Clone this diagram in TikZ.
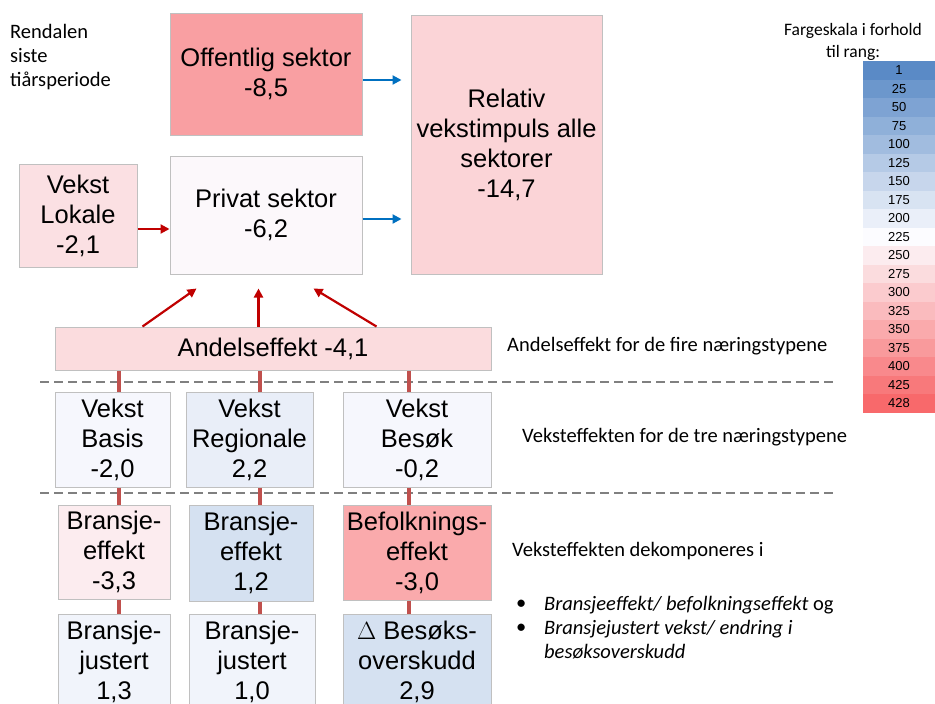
\documentclass[tikz,border=0pt]{standalone}
\usepackage{fontspec}
\setmainfont{Carlito}
\newfontfamily\arialfont{Liberation Sans}
\usepackage{tikz}
\usetikzlibrary{arrows.meta,positioning}

\definecolor{rankblue}{HTML}{5A8AC6}
\definecolor{rankwhite}{HTML}{FCFCFF}
\definecolor{rankred}{HTML}{F8696B}
\definecolor{boxline}{HTML}{C0C0C0}
\definecolor{arrowred}{HTML}{C00000}
\definecolor{arrowblue}{HTML}{0070C0}
\definecolor{linkred}{HTML}{C0504D}
\definecolor{sepgray}{HTML}{808080}

\tikzset{
  effbox/.style={rectangle,draw=boxline,line width=1pt,align=center,inner sep=2pt,
    font=\arialfont\fontsize{25.5}{30}\selectfont},
  rankcell/.style={rectangle,minimum width=72pt,minimum height=18.5pt,inner sep=0pt,
    font=\arialfont\fontsize{13}{15}\selectfont},
  redarrow/.style={->,draw=arrowred,line width=2.2pt},
  bluearrow/.style={->,draw=arrowblue,line width=2.2pt,shorten >=9pt},
  link/.style={draw=linkred,line width=3.5pt},
  sepline/.style={draw=sepgray,line width=2.5pt,dash pattern=on 9pt off 5pt},
  note/.style={anchor=west,inner sep=0pt,font=\fontsize{20.5}{24}\selectfont}
}

\begin{document}
\begin{tikzpicture}[x=1pt,y=-1pt,>={Triangle[length=9pt,width=9pt]}]
\useasboundingbox (0,0) rectangle (935,704);
\clip (0,0) rectangle (935,704);
\fill[white] (0,0) rectangle (935,704);

% sektorer
\node[effbox,fill=rankred!63!rankwhite,minimum width=192pt,minimum height=122pt] (offentlig) at (266,74) {Offentlig sektor\\-8,5};
\node[effbox,fill=rankred!27!rankwhite,minimum width=191pt,minimum height=259pt] (relativ) at (506.5,144.5) {Relativ\\vekstimpuls alle\\sektorer\\-14,7};
\node[effbox,fill=rankwhite!97!rankred,minimum width=192pt,minimum height=118pt] (privat) at (266,215) {Privat sektor\\-6,2};
\node[effbox,fill=rankred!19!rankwhite,minimum width=118pt,minimum height=103pt] (lokale) at (78,215.5) {Vekst\\Lokale\\-2,1};
  \draw[bluearrow] (offentlig.east |- 0,80) -- (relativ.west |- 0,80);
  \draw[bluearrow] (privat.east |- 0,219) -- (relativ.west |- 0,219);
  \draw[redarrow] (lokale.east |- 0,229) -- (privat.west |- 0,229);

\node[effbox,fill=rankred!22!rankwhite,minimum width=436pt,minimum height=43pt] (andel) at (273,348.5) {Andelseffekt -4,1};
  \draw[redarrow] ([xshift=88pt]andel.north west) -- ([xshift=27pt,yshift=-14pt]privat.south west);
  \draw[redarrow] ([xshift=204pt]andel.north west) -- ([xshift=89pt,yshift=-14pt]privat.south west);
  \draw[redarrow] ([xshift=322pt]andel.north west) -- ([xshift=144pt,yshift=-14pt]privat.south west);

% vekst
\node[effbox,fill=rankwhite!96!rankblue,minimum width=115pt,minimum height=95pt] (basis) at (112.5,439.5) {Vekst\\Basis\\-2,0};
\node[effbox,fill=rankblue!12!rankwhite,minimum width=127pt,minimum height=95pt] (regional) at (249.5,439.5) {Vekst\\Regionale\\2,2};
\node[effbox,fill=rankwhite!96!rankblue,minimum width=148pt,minimum height=95pt] (besok) at (417,439.5) {Vekst\\Besøk\\-0,2};

% dekomponering
\node[effbox,fill=rankred!11!rankwhite,minimum width=112pt,minimum height=94pt] (bransje1) at (114,552) {Bransje-\\effekt\\-3,3};
\node[effbox,fill=rankblue!24!rankwhite,minimum width=124pt,minimum height=96pt] (bransje2) at (251,553) {Bransje-\\effekt\\1,2};
\node[effbox,fill=rankred!56!rankwhite,minimum width=148pt,minimum height=95pt] (befolk) at (417,552.5) {Befolknings-\\effekt\\-3,0};
\node[effbox,fill=rankwhite!93!rankblue,minimum width=112pt,minimum height=96pt] (justert1) at (114,662) {Bransje-\\justert\\1,3};
\node[effbox,fill=rankwhite!93!rankblue,minimum width=126pt,minimum height=96pt] (justert2) at (252,662) {Bransje-\\justert\\1,0};
\node[effbox,fill=rankblue!24!rankwhite,minimum width=148pt,minimum height=96pt] (besoks) at (417,662) {$\Delta$ Besøks-\\overskudd\\2,9};

\draw[sepline] (40,382) -- (835,382);
\draw[sepline] (40,493) -- (835,493);

\coordinate (spor1) at (119,0);
\coordinate (spor2) at (260,0);
\coordinate (spor3) at (409,0);
\foreach \fra/\til/\spor in {andel/basis/spor1,andel/regional/spor2,andel/besok/spor3,
    basis/bransje1/spor1,regional/bransje2/spor2,besok/befolk/spor3,
    bransje1/justert1/spor1,bransje2/justert2/spor2,befolk/besoks/spor3}
  \draw[link] (\fra.south -| \spor) -- (\til.north -| \spor);

% forklaringer
\node[note,anchor=north west,align=left] (sted) at (10,24) {Rendalen\\siste\\tiårsperiode};
\node[note] (andeltekst) at (507,346) {Andelseffekt for de fire næringstypene};
\node[note] (veksttekst) at (522,437) {Veksteffekten for de tre næringstypene};
\node[note] (dekomp) at (512,551) {Veksteffekten dekomponeres i};
\node[note] (punkt1) at (516,605) {•};
\node[note] (punkt2) at (516,629) {•};
\node[note,anchor=north west,align=left] (punkttekst) at (544,596) {\textit{Bransjeeffekt/ befolkningseffekt} og\\\textit{Bransjejustert vekst/ endring i}\\\textit{besøksoverskudd}};

% fargeskala
\node[align=center,font=\fontsize{17.5}{22}\selectfont] (skala) at (853,42) {Fargeskala i forhold\\til rang:};
\foreach \rang [count=\i from 0] in {1,25,50,75,100,125,150,175,200,225,250,275,300,325,350,375,400,425,428}{
  \pgfmathtruncatemacro{\mix}{round(abs(9-\i)*100/9)}
  \ifnum\i<9 \def\cellcol{rankblue!\mix!rankwhite}\else\def\cellcol{rankred!\mix!rankwhite}\fi
  \node[rankcell,fill=\cellcol] (rang\i) at (899,{70.25+18.5*\i}) {\rang};
}
\end{tikzpicture}
\end{document}
